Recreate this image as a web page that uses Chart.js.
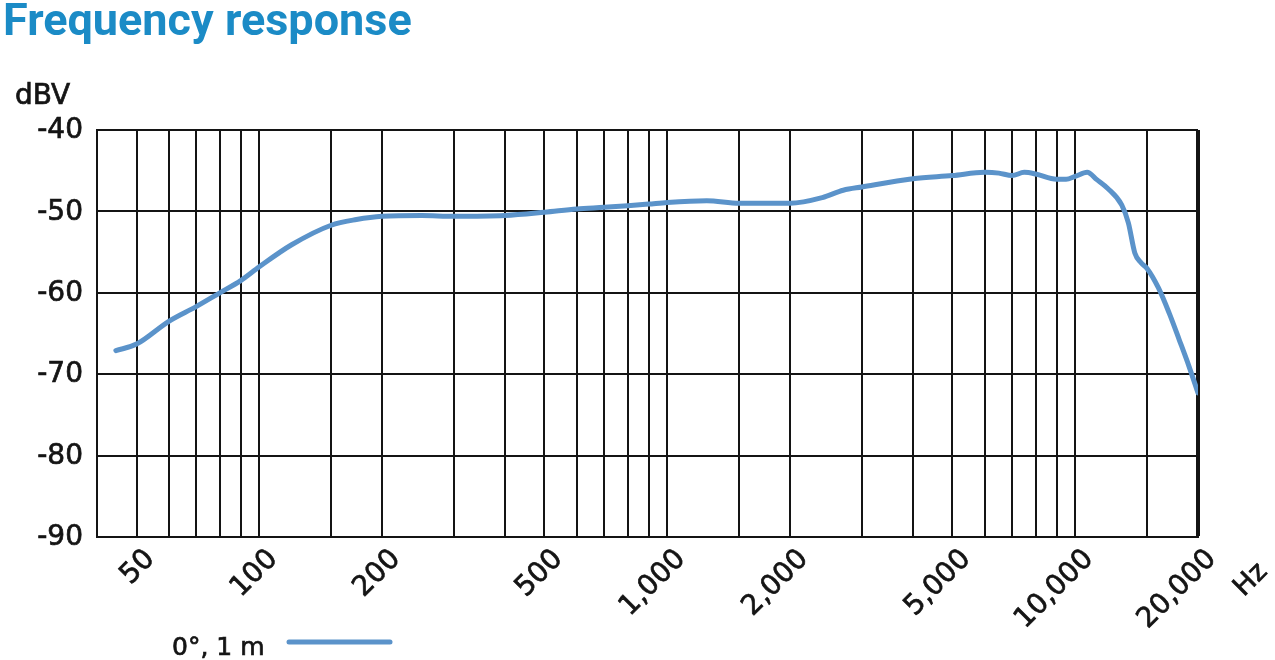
<!DOCTYPE html>
<html>
<head>
<meta charset="utf-8">
<script src="https://cdn.jsdelivr.net/npm/chart.js@4"></script>
<style>
  html, body { margin: 0; padding: 0; background: #fff; }
  #wrap { width: 1275px; height: 660px; position: relative; }
</style>
</head>
<body>
<div id="wrap"><canvas id="freqChart"></canvas></div>
<script>
// values
const freqs = [44.5, 50, 60, 70, 80, 90, 100, 120, 150, 173, 200, 250, 300, 400, 500, 600, 700, 800, 900,
  1000, 1250, 1500, 2000, 2400, 2700, 3000, 4000, 5000, 6000, 6500, 7000, 7500, 8000, 9000, 9500,
  10000, 10700, 11300, 12000, 13000, 13500, 14000, 14500, 15000, 16000, 17000, 18000, 19000, 20000];
const levels = [-67.1, -66.3, -63.5, -61.7, -60.0, -58.5, -56.8, -54.1, -51.7, -51.0, -50.6, -50.5, -50.6, -50.5, -50.1, -49.7, -49.5, -49.3, -49.1,
  -48.9, -48.7, -49.0, -49.0, -48.3, -47.4, -47.0, -46.0, -45.6, -45.2, -45.3, -45.6, -45.2, -45.4, -46.05, -46.05,
  -45.7, -45.2, -46.1, -47.15, -49.2, -51.4, -55.1, -56.3, -57.0, -59.4, -62.5, -65.8, -69.0, -72.3];

const gridFreqs = [40, 50, 60, 70, 80, 90, 100, 150, 200, 300, 400, 500, 600, 700, 800, 900,
  1000, 1500, 2000, 3000, 4000, 5000, 6000, 7000, 8000, 9000, 10000, 15000, 20000];
const labeledFreqs = [50, 100, 200, 500, 1000, 2000, 5000, 10000, 20000];
const dbTicks = [-40, -50, -60, -70, -80, -90];

const seriesName = '0°, 1 m';
const lineColor = '#5b93ca';
const ink = '#141414';

// regular DejaVu with a thin outline, closer to the medium weight of the original
function heavyText(ctx, text, x, y, size) {
  ctx.font = size + 'px "DejaVu Sans"';
  ctx.fillText(text, x, y);
  ctx.lineWidth = 0.7;
  ctx.strokeStyle = ink;
  ctx.strokeText(text, x, y);
}

const decorations = {
  id: 'decorations',
  afterDraw(chart) {
    const ctx = chart.ctx;
    ctx.save();
    ctx.fillStyle = '#1b8bc6';
    ctx.font = 'bold 45px Roboto';
    ctx.textBaseline = 'alphabetic';
    ctx.fillText('Frequency response', 3, 35);

    ctx.fillStyle = ink;
    heavyText(ctx, 'dBV', 15, 104, 28);
    heavyText(ctx, seriesName, 172, 655, 25);

    ctx.strokeStyle = lineColor;
    ctx.lineWidth = 5;
    ctx.lineCap = 'round';
    ctx.beginPath();
    ctx.moveTo(289, 642);
    ctx.lineTo(390, 642);
    ctx.stroke();

    ctx.translate(1251, 580);
    ctx.rotate(-Math.PI / 4);
    ctx.textAlign = 'center';
    ctx.textBaseline = 'middle';
    heavyText(ctx, 'Hz', 0, 0, 27);
    ctx.restore();
  }
};

new Chart(document.getElementById('freqChart'), {
  type: 'line',
  data: {
    datasets: [{
      label: seriesName,
      data: freqs.map((f, i) => ({ x: f, y: levels[i] })),
      borderColor: lineColor,
      borderWidth: 5,
      pointRadius: 0,
      cubicInterpolationMode: 'monotone',
      borderCapStyle: 'round'
    }]
  },
  options: {
    responsive: true,
    maintainAspectRatio: false,
    animation: false,
    layout: { padding: { top: 130, left: 0, right: 77, bottom: 0 } },
    plugins: { legend: { display: false }, tooltip: { enabled: false } },
    scales: {
      x: {
        type: 'logarithmic',
        min: 40,
        max: 20000,
        afterBuildTicks: (scale) => { scale.ticks = gridFreqs.map(v => ({ value: v })); },
        afterFit: (scale) => { scale.height = 123; },
        grid: {
          color: ink,
          lineWidth: (c) => (c.tick && c.tick.value === 20000 ? 4 : 2),
          drawTicks: false
        },
        border: { color: ink, width: 2 },
        ticks: {
          autoSkip: false,
          minRotation: 45,
          maxRotation: 45,
          padding: 6,
          labelOffset: 14,
          color: ink,
          textStrokeColor: ink,
          textStrokeWidth: 0.7,
          font: { family: 'DejaVu Sans', size: 28 },
          callback: (v) => (labeledFreqs.includes(v) ? v.toLocaleString('en-US') : '')
        }
      },
      y: {
        min: -90,
        max: -40,
        afterBuildTicks: (scale) => { scale.ticks = dbTicks.map(v => ({ value: v })); },
        afterFit: (scale) => { scale.width = 97; },
        grid: { color: ink, lineWidth: 2, drawTicks: false },
        border: { color: ink, width: 2 },
        ticks: {
          padding: 14,
          labelOffset: 1,
          color: ink,
          textStrokeColor: ink,
          textStrokeWidth: 0.7,
          font: { family: 'DejaVu Sans', size: 28 }
        }
      }
    }
  },
  plugins: [decorations]
});
</script>
</body>
</html>
